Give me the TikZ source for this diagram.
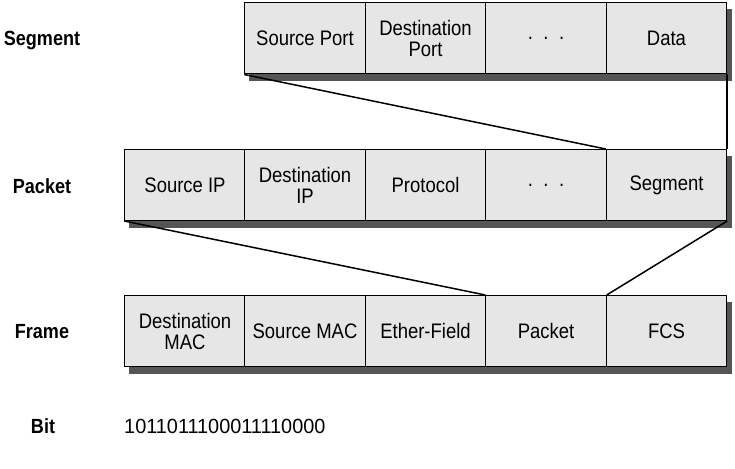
\documentclass[tikz,border=0pt]{standalone}
\usepackage{fontspec}
\setmainfont{Liberation Sans}[FakeStretch=0.88]
\newfontfamily\bitsfont{Liberation Sans}[FakeStretch=0.97]
\usetikzlibrary{backgrounds}
\begin{document}
\begin{tikzpicture}[x=1pt,y=-1pt,
  cell/.style={draw=black, line width=1pt, fill=cellgray, minimum width=120.4pt, minimum height=71pt, inner sep=0pt, align=center, font=\fontsize{21}{21}\selectfont},
  lbl/.style={font=\fontsize{20.5}{21}\selectfont\bfseries, inner sep=0pt},
  conn/.style={draw=black, line width=1.5pt},
  rowshadow/.style={fill=shadowgray}]
\definecolor{cellgray}{HTML}{E6E6E6}
\definecolor{shadowgray}{HTML}{555555}
\useasboundingbox (0,0) rectangle (735,468);
% Segment row
\node[cell] (s1) at (305,38.5) {Source Port};
\node[cell] (s2) at (425.5,38.5) {Destination\\Port};
\node[cell] (s3) at (546,38.5) {.\,\,\,.\,\,\,.};
\node[cell] (s4) at (666.5,38.5) {Data};
% Packet row
\node[cell] (p1) at (185,185) {Source IP};
\node[cell] (p2) at (305,185) {Destination\\IP};
\node[cell] (p3) at (425.5,185) {Protocol};
\node[cell] (p4) at (546,185) {.\,\,\,.\,\,\,.};
\node[cell] (p5) at (666.5,185) {Segment};
% Frame row
\node[cell] (f1) at (185,331) {Destination\\MAC};
\node[cell] (f2) at (305,331) {Source MAC};
\node[cell] (f3) at (425.5,331) {Ether-Field};
\node[cell] (f4) at (546,331) {Packet};
\node[cell] (f5) at (666.5,331) {FCS};
% shadows
\begin{scope}[on background layer]
\fill[rowshadow] ([shift={(5pt,-7pt)}]s1.south west) rectangle ([shift={(5pt,-7pt)}]s4.north east);
\fill[rowshadow] ([shift={(5pt,-7pt)}]p1.south west) rectangle ([shift={(5pt,-7pt)}]p5.north east);
\fill[rowshadow] ([shift={(5pt,-7pt)}]f1.south west) rectangle ([shift={(5pt,-7pt)}]f5.north east);
\end{scope}
% labels
\node[lbl] (lseg) at (42,41) {Segment};
\node[lbl] (lpkt) at (42,186) {Packet};
\node[lbl] (lfrm) at (42,332) {Frame};
\node[lbl] (lbit) at (43,426) {Bit};
\node[font=\fontsize{20.5}{21}\bitsfont, inner sep=0pt, anchor=west] (bits) at (124,426) {1011011100011110000};
% connectors
\draw[conn] (s1.south west) -- (p5.north west);
\draw[conn] (s4.south east) -- (p5.north east);
\draw[conn] (p1.south west) -- (f4.north west);
\draw[conn] (p5.south east) -- (f4.north east);
\end{tikzpicture}
\end{document}
